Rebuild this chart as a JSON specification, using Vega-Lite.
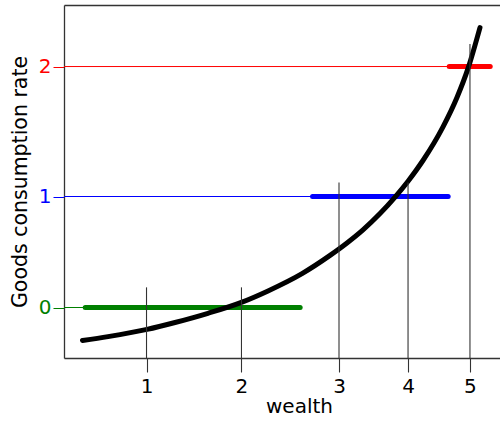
{
  "$schema": "https://vega.github.io/schema/vega-lite/v6.json",
  "width": 436,
  "height": 353,
  "autosize": "none",
  "padding": {"left": 64, "top": 5, "right": 0, "bottom": 63},
  "config": {
    "font": "DejaVu Sans",
    "view": {"stroke": null},
    "axis": {"grid": false, "domainColor": "#333", "domainWidth": 1.3, "titleFontWeight": "normal", "titleColor": "black", "labelFont": "DejaVu Sans", "titleFont": "DejaVu Sans"}
  },
  "datasets": {
    "curve": [
      {"w": 0.229, "c": -0.275},
      {"w": 0.545, "c": -0.2425},
      {"w": 1.028, "c": -0.1825},
      {"w": 1.375, "c": -0.125},
      {"w": 1.783, "c": -0.0483},
      {"w": 2.205, "c": 0.045},
      {"w": 2.527, "c": 0.1383},
      {"w": 2.948, "c": 0.2825},
      {"w": 3.295, "c": 0.4342},
      {"w": 3.505, "c": 0.5375},
      {"w": 3.703, "c": 0.6467},
      {"w": 3.914, "c": 0.7825},
      {"w": 4.1, "c": 0.92},
      {"w": 4.261, "c": 1.0525},
      {"w": 4.446, "c": 1.225},
      {"w": 4.694, "c": 1.505},
      {"w": 4.867, "c": 1.75},
      {"w": 5.004, "c": 1.9925},
      {"w": 5.152, "c": 2.3325}
    ],
    "levels": [
      {"level": "0", "v": 0, "start": 0.263, "end": 2.925},
      {"level": "1", "v": 0.925, "start": 3.078, "end": 4.758},
      {"level": "2", "v": 2.008, "start": 4.771, "end": 5.279}
    ],
    "ticks": [
      {"w": 1.022, "top": 0.168},
      {"w": 2.198, "top": 0.168},
      {"w": 3.406, "top": 1.042},
      {"w": 4.261, "top": 1.042},
      {"w": 5.028, "top": 2.196}
    ]
  },
  "layer": [
    {
      "data": {"name": "levels"},
      "mark": {"type": "rule", "strokeWidth": 1},
      "encoding": {
        "x": {"field": "start", "type": "quantitative", "scale": {"domain": [0, 5.4], "nice": false, "zero": false}, "axis": null},
        "x2": {"datum": 0},
        "y": {"field": "v", "type": "quantitative", "scale": {"domain": [-0.4208, 2.5208], "nice": false, "zero": false}, "axis": null},
        "color": {"field": "level", "type": "nominal", "scale": {"domain": ["0", "1", "2"], "range": ["#008000", "#0000ff", "#ff0000"]}, "legend": null}
      }
    },
    {
      "data": {"name": "levels"},
      "mark": {"type": "rule", "strokeWidth": 5, "strokeCap": "round"},
      "encoding": {
        "x": {"field": "start", "type": "quantitative", "scale": {"domain": [0, 5.4], "nice": false, "zero": false}, "axis": null},
        "x2": {"field": "end"},
        "y": {"field": "v", "type": "quantitative", "scale": {"domain": [-0.4208, 2.5208], "nice": false, "zero": false}, "axis": null},
        "color": {"field": "level", "type": "nominal", "scale": {"domain": ["0", "1", "2"], "range": ["#008000", "#0000ff", "#ff0000"]}, "legend": null}
      }
    },
    {
      "data": {"name": "curve"},
      "mark": {"type": "line", "color": "black", "strokeWidth": 5, "strokeCap": "round", "interpolate": "monotone"},
      "encoding": {
        "x": {"field": "w", "type": "quantitative", "scale": {"domain": [0, 5.4], "nice": false, "zero": false},
              "axis": {"orient": "top", "labels": false, "ticks": false, "title": null}},
        "y": {"field": "c", "type": "quantitative", "scale": {"domain": [-0.4208, 2.5208], "nice": false, "zero": false}, "axis": null}
      }
    },
    {
      "data": {"name": "ticks"},
      "mark": {"type": "rule", "color": "#333", "strokeWidth": 1.1},
      "encoding": {
        "x": {"field": "w", "type": "quantitative", "scale": {"domain": [0, 5.4], "nice": false, "zero": false},
              "axis": {"orient": "bottom", "values": [1.022, 2.198, 3.406, 4.261, 5.028], "labelExpr": "'' + round(datum.value)",
                       "tickSize": 14, "tickColor": "#333", "tickWidth": 1.1, "labelFontSize": 20, "labelColor": "black", "labelPadding": 4,
                       "title": "wealth", "titleFontSize": 20, "titleX": 235, "titlePadding": 0}},
        "y": {"field": "top", "type": "quantitative", "scale": {"domain": [-0.4208, 2.5208], "nice": false, "zero": false},
              "axis": {"orient": "left", "values": [0, 0.925, 2.008], "labelExpr": "'' + round(datum.value)",
                       "tickSize": 11, "tickWidth": 1, "labelFontSize": 20, "labelPadding": 2,
                       "tickColor": {"expr": "datum.value < 0.5 ? '#008000' : (datum.value < 1.5 ? '#0000ff' : '#ff0000')"},
                       "labelColor": {"expr": "datum.value < 0.5 ? '#008000' : (datum.value < 1.5 ? '#0000ff' : '#ff0000')"},
                       "title": "Goods consumption rate", "titleFontSize": 20.5, "titlePadding": 8}},
        "y2": {"datum": -0.4208}
      }
    }
  ],
  "resolve": {"axis": {"x": "independent", "y": "independent"}}
}
